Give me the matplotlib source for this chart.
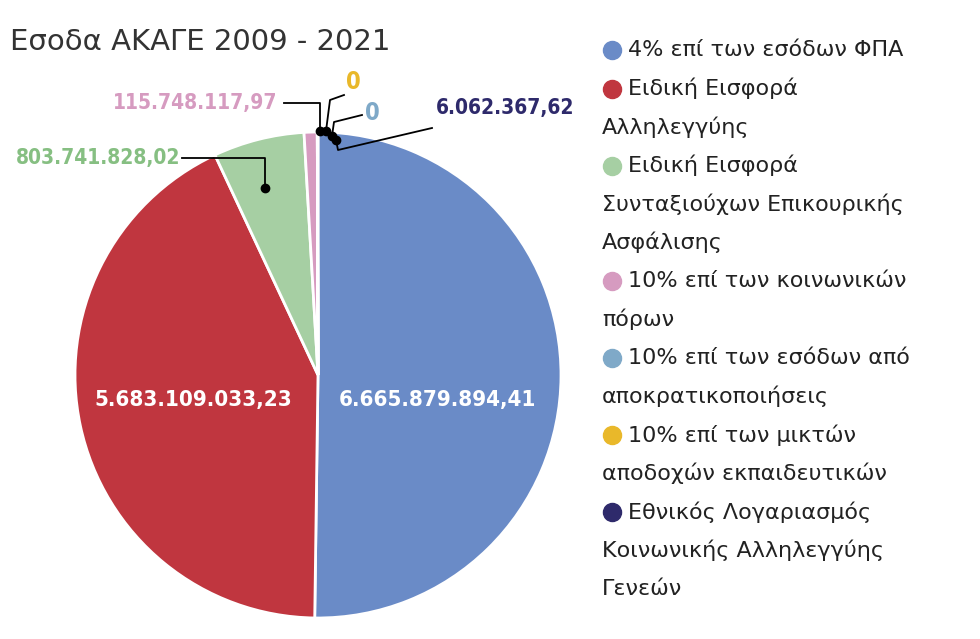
import matplotlib.pyplot as plt
from matplotlib.lines import Line2D

W, H = 980, 639

labels = ["4% επί των εσόδων ΦΠΑ",
          "Ειδική Εισφορά\nΑλληλεγγύης",
          "Ειδική Εισφορά\nΣυνταξιούχων Επικουρικής\nΑσφάλισης",
          "10% επί των κοινωνικών\nπόρων",
          "10% επί των εσόδων από\nαποκρατικοποιήσεις",
          "10% επί των μικτών\nαποδοχών εκπαιδευτικών",
          "Εθνικός Λογαριασμός\nΚοινωνικής Αλληλεγγύης\nΓενεών"]
values = [6665879894.41, 5683109033.23, 803741828.02, 115748117.97, 0.0, 0.0, 6062367.62]
value_text = ["6.665.879.894,41", "5.683.109.033,23", "803.741.828,02",
              "115.748.117,97", "0", "0", "6.062.367,62"]
colors = ["#6a8bc7", "#c0363f", "#a6cfa3", "#d69bc0", "#7fa9c8", "#e9b82a", "#2e2a6b"]

narrow = ["Liberation Sans Narrow", "DejaVu Sans Condensed", "DejaVu Sans"]
nkw = dict(fontweight="bold", family=narrow, fontstretch="condensed",
           ha="center", va="center")

fig = plt.figure(figsize=(W / 100, H / 100), dpi=100)
fig.patch.set_facecolor("white")

cx, cy, r = 318, 375, 243
ax = fig.add_axes([(cx - r) / W, (H - cy - r) / H, 2 * r / W, 2 * r / H])
ax.pie(values, colors=colors, startangle=90, counterclock=False, radius=1,
       wedgeprops=dict(edgecolor="white", linewidth=2))
ax.set_xlim(-1, 1)
ax.set_ylim(-1, 1)
ax.set_aspect("equal")
ax.axis("off")

def d(px, py):
    return ((px - cx) / r, (cy - py) / r)

# inner labels
fig.text(437 / W, 1 - 400 / H, value_text[0], color="white", fontsize=16, **nkw)
fig.text(193 / W, 1 - 400 / H, value_text[1], color="white", fontsize=16, **nkw)

# outer labels with leader lines
def leader(pts, color="black"):
    xs, ys = zip(*[d(*p) for p in pts])
    ax.plot(xs, ys, color=color, lw=1.3, clip_on=False)
    ax.plot(xs[-1], ys[-1], "o", color=color, ms=6, clip_on=False)

leader([(182, 158), (265, 158), (265, 188)])
fig.text(98 / W, 1 - 158 / H, value_text[2], color="#86bf82", fontsize=15, **nkw)
leader([(284, 103), (320, 103), (320, 131)])
fig.text(195 / W, 1 - 103 / H, value_text[3], color="#d69bc0", fontsize=15, **nkw)
leader([(344, 95), (330, 100), (326, 131)])
fig.text(353 / W, 1 - 82 / H, value_text[5], color=colors[5], fontsize=17, **nkw)
leader([(362, 115), (334, 122), (332, 136)])
fig.text(372 / W, 1 - 113 / H, value_text[4], color=colors[4], fontsize=17, **nkw)
leader([(432, 128), (338, 150), (336, 140)])
fig.text(505 / W, 1 - 108 / H, value_text[6], color=colors[6], fontsize=15, **nkw)

fig.text(10 / W, 1 - 42 / H, "Εσοδα ΑΚΑΓΕ 2009 - 2021", fontsize=21,
         color="#333333", ha="left", va="center")

# legend
line_h = 38.5
y = 50
for lab, col in zip(labels, colors):
    fig.add_artist(Line2D([612 / W], [1 - y / H], marker="o", ms=13, color=col,
                          transform=fig.transFigure))
    lines = lab.split("\n")
    for i, ln in enumerate(lines):
        x = 628 if i == 0 else 602
        fig.text(x / W, 1 - (y + i * line_h) / H, ln, fontsize=16,
                 color="#222222", ha="left", va="center")
    y += line_h * len(lines)

fig.savefig("out.png", dpi=100)
